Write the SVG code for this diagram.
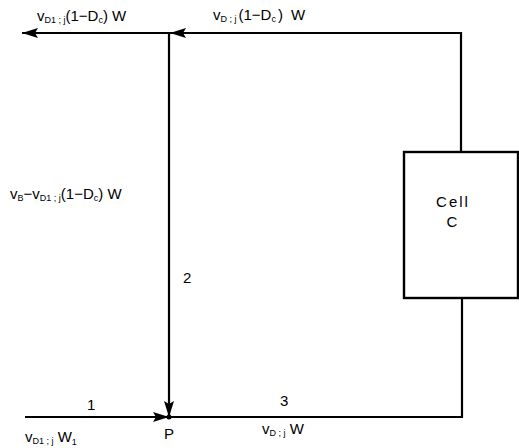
<svg xmlns="http://www.w3.org/2000/svg" width="519" height="448" viewBox="0 0 519 448">
<style>
.ln{stroke:#000;stroke-width:2.2;fill:none}
.bx{stroke:#000;stroke-width:2.4;fill:#fff}
text{font-family:"Liberation Sans",Arial,sans-serif;font-size:15px;fill:#000}
.s{font-size:9px}
</style>
<defs>
<marker id="ahL" viewBox="0 0 16 10" refX="16" refY="5" markerWidth="16" markerHeight="10" markerUnits="userSpaceOnUse" orient="auto">
<path d="M0,0 L16,5 L0,10 L3,5 Z" fill="#000"/>
</marker>
</defs>
<g id="connectors">
<path class="ln" d="M461,152 V33 H170" marker-end="url(#ahL)"/>
<path class="ln" d="M170,33 H22" marker-end="url(#ahL)"/>
<path class="ln" d="M169,33 V417" marker-end="url(#ahL)"/>
<path class="ln" d="M25,417 H169" marker-end="url(#ahL)"/>
<path class="ln" d="M169,417 H462 V298"/>
<circle cx="169" cy="417" r="2.5" fill="#000"/>
</g>
<g id="cellC">
<rect class="bx" x="404" y="152" width="114" height="146"/>
<text x="453" y="207" text-anchor="middle" letter-spacing="2">Cell</text>
<text x="452" y="227" text-anchor="middle">C</text>
</g>
<g id="labels">
<text x="37" y="21">v<tspan class="s" dy="2">D1 ; j</tspan><tspan dy="-2">(1−D</tspan><tspan class="s" dy="2">c</tspan><tspan dy="-2">) W</tspan></text>
<text x="213" y="20">v<tspan class="s" dy="2">D ; j</tspan><tspan dx="2" dy="-2">(1−D</tspan><tspan class="s" dy="2">c</tspan><tspan dx="2" dy="-2">)</tspan><tspan dx="8">W</tspan></text>
<text x="10" y="199">v<tspan class="s" dy="2">B</tspan><tspan dy="-2">−v</tspan><tspan class="s" dy="2">D1 ; j</tspan><tspan dy="-2">(1−D</tspan><tspan class="s" dy="2">c</tspan><tspan dy="-2">) W</tspan></text>
<text x="183" y="283">2</text>
<text x="87" y="410">1</text>
<text x="280" y="406">3</text>
<text x="164" y="439">P</text>
<text x="25" y="442">v<tspan class="s" dy="2">D1 ; j</tspan><tspan dy="-2"> W</tspan><tspan class="s" dy="3">1</tspan></text>
<text x="262" y="434">v<tspan class="s" dy="2">D ; j</tspan><tspan dy="-2"> W</tspan></text>
</g>
</svg>
